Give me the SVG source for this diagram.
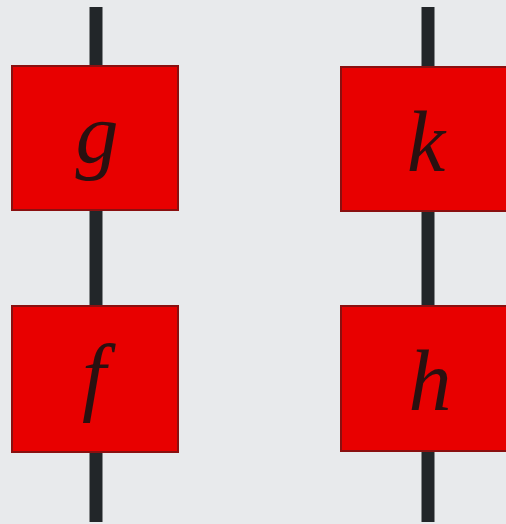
<svg xmlns="http://www.w3.org/2000/svg" width="506" height="524" viewBox="0 0 506 524">
<style>
.wire{stroke:#222629;stroke-width:13;fill:none}
.box{fill:#e80000;stroke:#8a1010;stroke-width:2}
.lbl{font-family:"Liberation Serif",serif;font-style:italic;font-size:86px;fill:#2a1010;text-anchor:middle}
</style>
<rect width="506" height="524" fill="#e8eaec"/>
<g id="connectors">
<line class="wire" x1="96" y1="7" x2="96" y2="522"/>
<line class="wire" x1="428" y1="7" x2="428" y2="522"/>
</g>
<g id="g"><rect class="box" x="12" y="66" width="166" height="144"/><text class="lbl" x="97" y="162">g</text></g>
<g id="k"><rect class="box" x="341" y="67" width="170" height="144"/><text class="lbl" x="426" y="171">k</text></g>
<g id="f"><rect class="box" x="12" y="306" width="166" height="146"/><text class="lbl" x="94" y="404">f</text></g>
<g id="h"><rect class="box" x="341" y="306" width="170" height="145"/><text class="lbl" x="430" y="410">h</text></g>
</svg>
